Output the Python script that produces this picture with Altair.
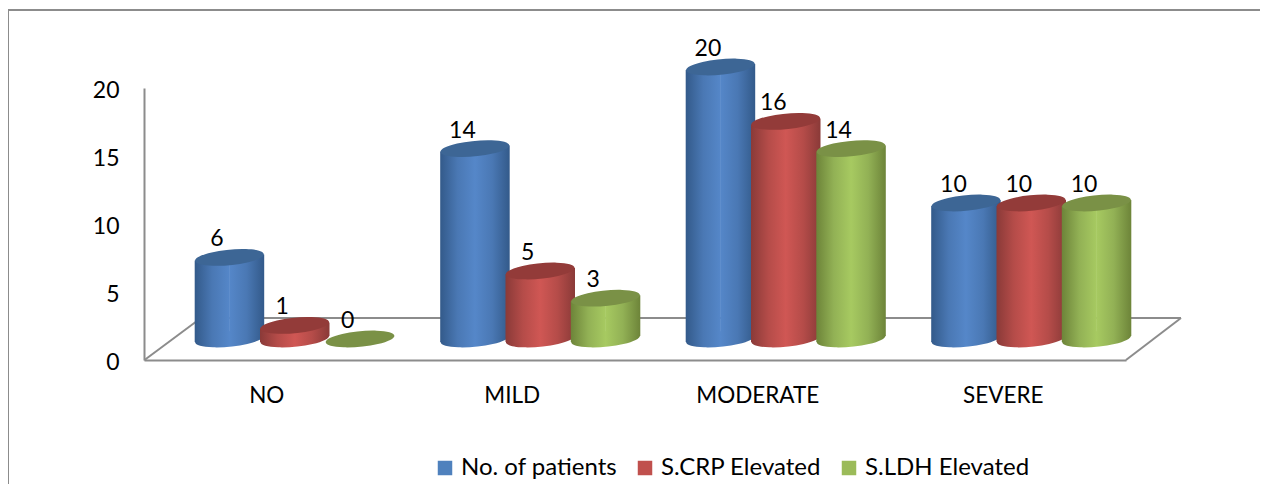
import math
import altair as alt
import pandas as pd

categories = ["NO", "MILD", "MODERATE", "SEVERE"]
series_names = ["No. of patients", "S.CRP Elevated", "S.LDH Elevated"]
patients = [6, 14, 20, 10]
crp = [1, 5, 16, 10]
ldh = [0, 3, 14, 10]
all_values = [patients, crp, ldh]
legend_colors = ["#4f81bd", "#c0504d", "#9bbb59"]
edge_colors = ["#335a8a", "#8a3a38", "#6d8439"]
mid_colors = ["#4a78b4", "#b54c49", "#92b155"]
peak_colors = ["#5587c9", "#d05754", "#a7ca61"]
cap_colors = ["#3d6695", "#933b39", "#7a9146"]
group_offsets = [-37.3, 28.0, 93.3]

FONT = "Lato"
GREY = "#8c8c8c"
PW, PH = 982, 272
BASE = -21
TILT = 3
RADIUS = 34.5

th = math.radians(5.5)
cx, sy = math.cos(th), math.sin(th)
ELLIPSE = (f"M{-cx:.4f},{sy:.4f} A1,0.224 -5.5 1 1 {cx:.4f},{-sy:.4f} "
           f"A1,0.224 -5.5 1 1 {-cx:.4f},{sy:.4f} Z")
ESIZE = (2 * RADIUS) ** 2

rows = [
    {"cat": c, "series": s, "v": v}
    for s, vals in zip(series_names, all_values)
    for c, v in zip(categories, vals)
]
df = pd.DataFrame(rows)

x = alt.X(
    "cat:N",
    sort=categories,
    scale=alt.Scale(domain=categories, paddingInner=0, paddingOuter=0),
    axis=alt.Axis(
        title=None, labelAngle=0, labelFont=FONT, labelFontSize=22.5, labelColor="#000000",
        labelPadding=24, tickSize=0, ticks=False, domainColor=GREY, domainWidth=2,
        grid=False,
    ),
)
y_scale = alt.Scale(domain=[0, 20], nice=False)
y_axis = alt.Axis(
    title=None, values=[0, 5, 10, 15, 20], labelFont=FONT, labelFontSize=23,
    labelColor="#000000", labelPadding=25, labelOffset=2, ticks=False, tickSize=0,
    domainColor=GREY, domainWidth=2, grid=False,
)
y = alt.Y("v:Q", scale=y_scale, axis=y_axis)
y_zero = alt.Y("zero:Q", scale=y_scale, axis=y_axis)


def seg(x1, y1, x2, y2):
    return alt.Chart(df.head(1)).mark_rule(color=GREY, strokeWidth=2).encode(
        x=alt.value(x1), x2=alt.value(x2), y=alt.value(y1), y2=alt.value(y2)
    )


def grad(colors):
    n = len(colors) - 1
    return alt.LinearGradient(
        gradient="linear", x1=0, x2=1, y1=0, y2=0,
        stops=[alt.GradientStop(offset=k / n, color=c) for k, c in enumerate(colors)],
    )


layers = [
    seg(-136, -78, 1116, -78),
    seg(-136, -78, -136, 396),
    seg(0.5, 272, 57, 230),
    seg(57, 230, 1037, 230),
    seg(1037, 230, 982, 272),
]

for i, name in enumerate(series_names):
    d = df[df.series == name]
    off = group_offsets[i]
    e, m, p = edge_colors[i], mid_colors[i], peak_colors[i]
    nonzero = d[d.v > 0]
    # rounded foot of the cylinder
    layers.append(
        alt.Chart(nonzero).transform_calculate(zero="0").mark_point(
            shape=ELLIPSE, size=ESIZE, filled=True, fill=grad([e, m, p, m, e]), fillOpacity=1,
            strokeWidth=0, xOffset=off, yOffset=BASE,
        ).encode(x=x, y=y_zero)
    )
    # the two halves of the body follow the tilted ellipse tangents
    layers.append(
        alt.Chart(nonzero).mark_bar(
            width=RADIUS + 0.5, fill=grad([e, m, p]), xOffset=off - RADIUS / 2,
            yOffset=BASE + TILT, y2Offset=BASE + TILT,
        ).encode(x=x, y=y)
    )
    layers.append(
        alt.Chart(nonzero).mark_bar(
            width=RADIUS + 0.5, fill=grad([p, m, e]), xOffset=off + RADIUS / 2,
            yOffset=BASE - TILT, y2Offset=BASE - TILT,
        ).encode(x=x, y=y)
    )
    # top cap
    layers.append(
        alt.Chart(d).mark_point(
            shape=ELLIPSE, size=ESIZE, filled=True, fill=cap_colors[i], fillOpacity=1,
            strokeWidth=0, xOffset=off, yOffset=BASE,
        ).encode(x=x, y=y)
    )

for i, name in enumerate(series_names):
    d = df[df.series == name]
    layers.append(
        alt.Chart(d).mark_text(
            font=FONT, fontSize=23, color="#000000", baseline="middle", align="center",
            xOffset=group_offsets[i] - 12.5, yOffset=BASE - 18,
        ).encode(x=x, y=y, text="v:Q")
    )

# carries the legend; the marks themselves have no size
layers.append(
    alt.Chart(df).mark_point(shape="square", filled=True, size=0).encode(
        x=x,
        y=y,
        color=alt.Color(
            "series:N",
            sort=series_names,
            scale=alt.Scale(domain=series_names, range=legend_colors),
            legend=alt.Legend(
                title=None, orient="none", legendX=289, legendY=368, direction="horizontal",
                symbolType="square", symbolSize=210, symbolOpacity=1, symbolStrokeWidth=0,
                labelFont=FONT, labelFontSize=24, labelColor="#000000", columns=3,
                columnPadding=15, symbolOffset=0, labelOffset=4, gridAlign="each", padding=0,
                labelLimit=300,
            ),
        ),
    )
)

chart = alt.layer(*layers).properties(
    width=PW,
    height=PH,
    background="#ffffff",
    padding={"left": 136, "top": 80, "right": 134, "bottom": 124},
    autosize=alt.AutoSizeParams(type="none"),
).configure_view(stroke=None)

chart.save("out.html", embed_options={"renderer": "svg", "actions": False})
